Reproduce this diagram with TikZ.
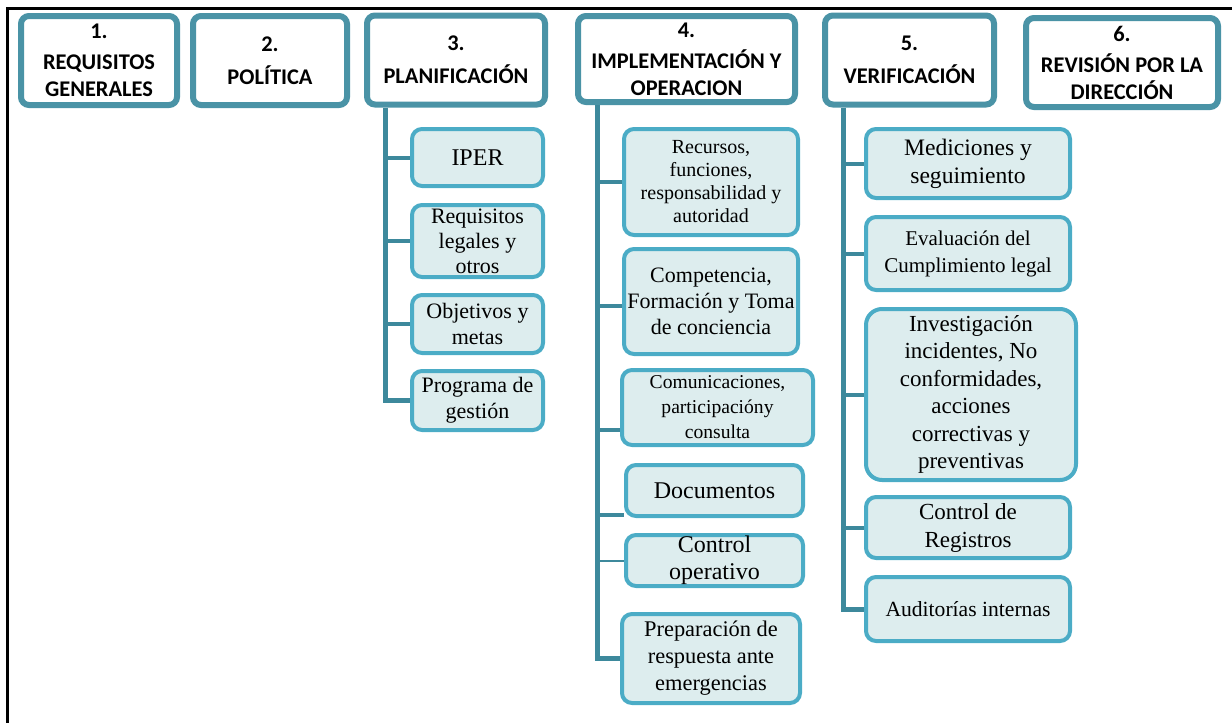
\documentclass[tikz,border=0pt]{standalone}
\usepackage{fontspec}
\setmainfont{Liberation Serif}
\newfontfamily\headfont{Carlito}
\usetikzlibrary{shadows}
\definecolor{headline}{HTML}{4A93A6}
\definecolor{subline}{HTML}{4BACC6}
\definecolor{subfill}{HTML}{DDEDEE}
\definecolor{trunk}{HTML}{3D899C}

\begin{document}
\begin{tikzpicture}[x=0.5pt, y=-0.5pt,
    head/.style={draw=headline, fill=white, line width=3pt, rounded corners=4pt, align=center, inner sep=0pt,
      font=\headfont\bfseries\fontsize{11.2}{13.5}\selectfont,
      drop shadow={shadow xshift=0.6pt, shadow yshift=-1.2pt, opacity=0.3, fill=black!60}},
    sub/.style={draw=subline, fill=subfill, line width=2pt, rounded corners=5pt, align=center, inner sep=0.5pt,
      font=\fontsize{11}{13}\selectfont},
    stem/.style={draw=trunk, line width=2.5pt},
    twig/.style={draw=trunk, line width=2pt}]
    \useasboundingbox (0,0) rectangle (1232,723);
    \draw[line width=1.5pt] (1232,8.5) -- (7.5,8.5) -- (7.5,723);

    \node[head, minimum width=78pt, minimum height=44.5pt] (h1) at (99,60.5) {1.\\[2pt]REQUISITOS\\GENERALES};
    \node[head, minimum width=77pt, minimum height=44.5pt] (h2) at (270,60.5) {2.\\[3pt]POLÍTICA};
    \node[head, minimum width=89pt, minimum height=44.5pt] (h3) at (456,60) {3.\\[3pt]PLANIFICACIÓN};
    \node[head, minimum width=108.5pt, minimum height=43pt] (h4) at (686.5,59) {4.\\[2pt]IMPLEMENTACIÓN Y\\OPERACION};
    \node[head, minimum width=84.5pt, minimum height=44.5pt] (h5) at (909.5,60) {5.\\[3pt]VERIFICACIÓN};
    \node[head, minimum width=96pt, minimum height=44.5pt] (h6) at (1122,62.5) {6.\\[2pt]REVISIÓN POR LA\\DIRECCIÓN};

    \node[sub, minimum width=65.5pt, minimum height=28.5pt, font=\fontsize{12}{14}\selectfont] (p1) at (477.5,157.5) {IPER};
    \node[sub, minimum width=65.5pt, minimum height=36pt, font=\fontsize{11}{12.5}\selectfont] (p2) at (477.5,241) {Requisitos\\legales y\\otros};
    \node[sub, minimum width=65.5pt, minimum height=29pt] (p3) at (477.5,324) {Objetivos y\\metas};
    \node[sub, minimum width=65.5pt, minimum height=29.5pt] (p4) at (477.5,400.5) {Programa de\\gestión};

    \node[sub, minimum width=87pt, minimum height=53pt, font=\fontsize{10}{11.5}\selectfont] (i1) at (711,182) {Recursos,\\funciones,\\responsabilidad y\\autoridad};
    \node[sub, minimum width=87pt, minimum height=52.5pt, font=\fontsize{11}{13}\selectfont] (i2) at (711,301.5) {Competencia,\\Formación y Toma\\de conciencia};
    \node[sub, minimum width=95.5pt, minimum height=37.5pt, font=\fontsize{9.8}{12.5}\selectfont] (i3) at (717.5,407.5) {Comunicaciones,\\participacióny\\consulta};
    \node[sub, minimum width=88.5pt, minimum height=25.5pt, font=\fontsize{12}{14}\selectfont] (i4) at (714.5,490.5) {Documentos};
    \node[sub, minimum width=88.5pt, minimum height=25.5pt, font=\fontsize{12}{13.5}\selectfont] (i5) at (714.5,560.5) {Control\\operativo};
    \node[sub, minimum width=89pt, minimum height=44.5pt, font=\fontsize{11.2}{13.5}\selectfont] (i6) at (711,658.5) {Preparación de\\respuesta ante\\emergencias};

    \node[sub, minimum width=102pt, minimum height=34.5pt, font=\fontsize{11.8}{14}\selectfont] (v1) at (968,163.5) {Mediciones y\\seguimiento};
    \node[sub, minimum width=102pt, minimum height=36.5pt, font=\fontsize{10.5}{13.5}\selectfont] (v2) at (968,253.5) {Evaluación del\\Cumplimiento legal};
    \node[sub, minimum width=105pt, minimum height=85.5pt, rounded corners=8pt, font=\fontsize{11.5}{13.75}\selectfont] (v3) at (971,394.5) {Investigación\\incidentes, No\\conformidades,\\acciones\\correctivas y\\preventivas};
    \node[sub, minimum width=102pt, minimum height=30.5pt, font=\fontsize{11.5}{14}\selectfont] (v4) at (968,527.5) {Control de\\Registros};
    \node[sub, minimum width=102pt, minimum height=32pt, font=\fontsize{10.8}{13}\selectfont] (v5) at (968,609) {Auditorías internas};

    \coordinate (x3) at (385,0);
    \coordinate (x4) at (597,0);
    \coordinate (x5) at (843,0);
    \coordinate (c2) at ([yshift=-2pt]i2.west);
    \coordinate (c3) at ([yshift=-11pt]i3.west);
    \coordinate (c4) at ([yshift=-12pt]i4.west);

    \draw[stem] (h3.south -| x3) -- (p4.west -| x3) -- (p4.west);
    \foreach \n in {p1,p2,p3}
      \draw[twig] (\n.west -| x3) -- (\n.west);

    \draw[stem] (h4.south -| x4) -- (i6.west -| x4) -- (i6.west);
    \foreach \n in {i1,c2,c3,c4}
      \draw[twig] (\n -| x4) -- (\n);
    \draw[draw=trunk, line width=1pt] (i5.west -| x4) -- (i5.west);

    \draw[stem] (h5.south -| x5) -- (v5.west -| x5) -- (v5.west);
    \foreach \n in {v1,v2,v3,v4}
      \draw[twig] (\n.west -| x5) -- (\n.west);
\end{tikzpicture}
\end{document}
